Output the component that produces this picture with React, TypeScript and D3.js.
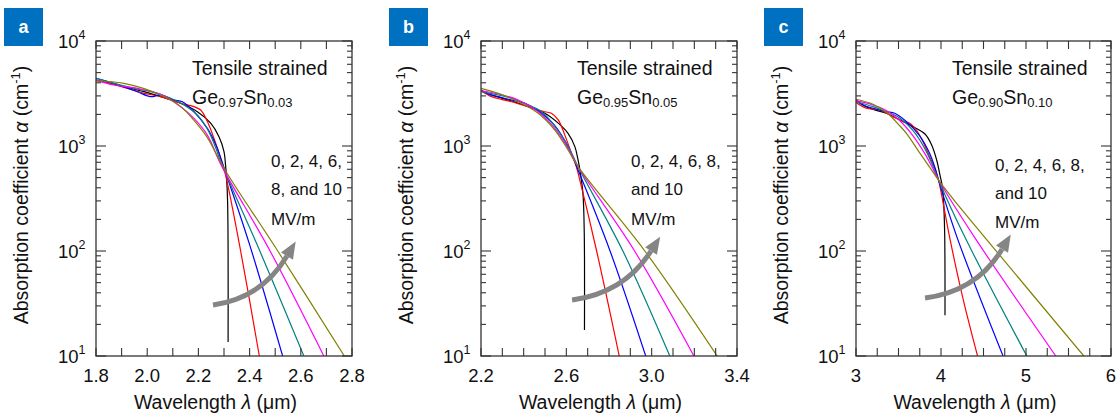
import React from "react";
import * as d3 from "d3";

type Pt = [number, number];

// Electric fields (MV/m) and their line colours
const fields = [0, 2, 4, 6, 8, 10];
const lineColors = ["#000000", "#ff0000", "#0000ff", "#008080", "#ff00ff", "#808000"];

// ---- Panel a: Ge0.97Sn0.03 (wavelength µm, alpha cm^-1)
const a0: Pt[] = [[1.8, 4250], [1.883, 3810], [1.988, 3290], [2.053, 2950], [2.131, 2550], [2.196, 2120], [2.248, 1650], [2.28, 1230], [2.3, 883], [2.306, 659], [2.31, 500], [2.314, 300], [2.316, 100], [2.316, 13.6]];
const a1: Pt[] = [[1.8, 4250], [1.87, 3860], [1.99, 3170], [2.053, 2950], [2.131, 2550], [2.183, 2370], [2.209, 2200], [2.235, 1710], [2.261, 1180], [2.287, 764], [2.306, 530], [2.365, 100], [2.438, 10]];
const a2: Pt[] = [[1.8, 4420], [1.87, 3950], [1.961, 3290], [2.014, 2950], [2.053, 3060], [2.105, 2740], [2.137, 2640], [2.183, 2120], [2.235, 1470], [2.27, 1000], [2.3, 620], [2.4, 115], [2.529, 10]];
const a3: Pt[] = [[1.8, 4420], [1.87, 3950], [1.948, 3540], [2.014, 3290], [2.092, 2850], [2.144, 2460], [2.196, 1970], [2.235, 1450], [2.265, 1000], [2.29, 680], [2.44, 100], [2.612, 10]];
const a4: Pt[] = [[1.8, 4250], [1.87, 3810], [1.961, 3540], [2.053, 3100], [2.131, 2370], [2.183, 1830], [2.235, 1270], [2.29, 650], [2.48, 100], [2.69, 10]];
const a5: Pt[] = [[1.8, 4160], [1.909, 3950], [2.053, 3060], [2.131, 2370], [2.183, 1750], [2.235, 1200], [2.27, 840], [2.31, 560], [2.51, 100], [2.77, 10]];

// ---- Panel b: Ge0.95Sn0.05
const b0: Pt[] = [[2.2, 3360], [2.25, 3060], [2.328, 2740], [2.421, 2370], [2.499, 2050], [2.562, 1650], [2.608, 1320], [2.64, 986], [2.655, 736], [2.666, 550], [2.678, 350], [2.684, 150], [2.685, 17.7]];
const b1: Pt[] = [[2.2, 3360], [2.25, 2950], [2.296, 2780], [2.343, 2640], [2.421, 2370], [2.499, 2120], [2.53, 2050], [2.562, 1770], [2.593, 1270], [2.624, 851], [2.647, 635], [2.663, 475], [2.742, 100], [2.848, 10]];
const b2: Pt[] = [[2.2, 3410], [2.234, 3130], [2.281, 2950], [2.343, 2740], [2.406, 2550], [2.437, 2370], [2.484, 2050], [2.546, 1560], [2.608, 986], [2.655, 590], [2.805, 100], [2.972, 10]];
const b3: Pt[] = [[2.2, 3290], [2.281, 3060], [2.343, 2850], [2.421, 2460], [2.484, 2120], [2.546, 1550], [2.608, 1000], [2.655, 635], [2.865, 100], [3.085, 10]];
const b4: Pt[] = [[2.2, 3360], [2.281, 3130], [2.375, 2740], [2.468, 2120], [2.546, 1470], [2.608, 951], [2.655, 635], [2.92, 100], [3.198, 10]];
const b5: Pt[] = [[2.2, 3540], [2.281, 3170], [2.375, 2640], [2.468, 2050], [2.546, 1420], [2.608, 917], [2.655, 635], [2.968, 100], [3.307, 10]];

// ---- Panel c: Ge0.90Sn0.10
const c0: Pt[] = [[3.0, 2700], [3.161, 2290], [3.357, 2050], [3.553, 1710], [3.71, 1470], [3.812, 1300], [3.89, 1023], [3.949, 736], [3.99, 520], [4.016, 410], [4.03, 300], [4.043, 150], [4.047, 60], [4.047, 24.5]];
const c1: Pt[] = [[3.0, 2590], [3.122, 2290], [3.278, 2200], [3.435, 1900], [3.553, 1710], [3.631, 1650], [3.71, 1420], [3.788, 1100], [3.867, 791], [3.945, 560], [3.975, 460], [4.104, 132], [4.263, 34], [4.43, 10]];
const c2: Pt[] = [[3.0, 2740], [3.082, 2460], [3.2, 2290], [3.357, 2120], [3.455, 2050], [3.592, 1710], [3.749, 1250], [3.867, 850], [3.93, 620], [3.969, 478], [4.193, 132], [4.73, 10]];
const c3: Pt[] = [[3.0, 2640], [3.2, 2370], [3.357, 2120], [3.514, 1850], [3.671, 1400], [3.808, 950], [3.9, 660], [3.969, 478], [4.288, 132], [5.01, 10]];
const c4: Pt[] = [[3.0, 2700], [3.2, 2460], [3.357, 2180], [3.514, 1750], [3.671, 1250], [3.808, 850], [3.9, 620], [3.969, 480], [4.403, 132], [5.35, 10]];
const c5: Pt[] = [[3.0, 2790], [3.2, 2500], [3.357, 2100], [3.514, 1560], [3.6, 1300], [3.733, 900], [3.89, 590], [3.969, 475], [4.165, 297], [4.525, 132], [5.68, 10]];

const panelCurves: Pt[][][] = [
  [a0, a1, a2, a3, a4, a5],
  [b0, b1, b2, b3, b4, b5],
  [c0, c1, c2, c3, c4, c5],
];

// Axes / labels
const panelLetters = ["a", "b", "c"];
const xDomains: [number, number][] = [[1.8, 2.8], [2.2, 3.4], [3, 6]];
const xLabelTicks = [[1.8, 2.0, 2.2, 2.4, 2.6, 2.8], [2.2, 2.6, 3.0, 3.4], [3, 4, 5, 6]];
const xTickStep = [0.1, 0.1, 0.25];
const xTickDigits = [1, 1, 0];
const yDomain: [number, number] = [10, 10000];
const yDecades = [10, 100, 1000, 10000];
const geFrac = ["0.97", "0.95", "0.90"];
const snFrac = ["0.03", "0.05", "0.10"];
const fieldNotes = [
  ["0, 2, 4, 6,", "8, and 10", "MV/m"],
  ["0, 2, 4, 6, 8,", "and 10", "MV/m"],
  ["0, 2, 4, 6, 8,", "and 10", "MV/m"],
];
// arrow: start, control, end (data coordinates)
const arrowA: Pt[] = [[2.257, 30.6], [2.448, 35.6], [2.546, 89.5]];
const arrowB: Pt[] = [[2.627, 34.1], [2.871, 39.8], [2.997, 100]];
const arrowC: Pt[] = [[3.812, 35.6], [4.424, 41.6], [4.718, 104]];
const panelArrows = [arrowA, arrowB, arrowC];

// layout
const TOP = 41;
const BOTTOM = 356;
const plotLefts = [96, 481, 856];
const plotWidths = [256, 256, 255];
const noteOffsets = [175, 150, 139];
const noteBaselines = [[167, 195, 225], [167, 195, 225], [171, 199, 228]];
const FONT = "'Liberation Sans', Arial, Helvetica, sans-serif";
const AXIS = "#333333";

function Panel({ i }: { i: number }) {
  const left = plotLefts[i];
  const right = left + plotWidths[i];
  const x = d3.scaleLinear().domain(xDomains[i]).range([left, right]);
  const y = d3.scaleLog().domain(yDomain).range([BOTTOM, TOP]);
  const line = d3
    .line<Pt>()
    .x((d) => x(d[0]))
    .y((d) => y(d[1]))
    .curve(d3.curveCatmullRom.alpha(0.5));

  const [x0, x1] = xDomains[i];
  const n = Math.round((x1 - x0) / xTickStep[i]);
  const xTicks = d3.range(n + 1).map((k) => x0 + k * xTickStep[i]);
  const yMinor: number[] = [];
  [10, 100, 1000].forEach((d) => {
    for (let k = 2; k <= 9; k++) yMinor.push(d * k);
  });

  // arrow geometry
  const [s, c, e] = panelArrows[i];
  const sx = x(s[0]), sy = y(s[1]);
  const cx = x(c[0]), cy = y(c[1]);
  const ex = x(e[0]), ey = y(e[1]);
  let dx = ex - cx, dy = ey - cy;
  const len = Math.hypot(dx, dy);
  dx /= len; dy /= len;
  const headL = 17, headW = 7;
  const tip = [ex + dx * headL, ey + dy * headL];
  const b1 = [ex - dy * headW, ey + dx * headW];
  const b2 = [ex + dy * headW, ey - dx * headW];

  const clipId = `plotclip-${i}`;
  const midX = (left + right) / 2;
  const midY = (TOP + BOTTOM) / 2;

  return (
    <g>
      <defs>
        <clipPath id={clipId}>
          <rect x={left} y={TOP} width={right - left} height={BOTTOM - TOP} />
        </clipPath>
      </defs>
      {/* panel letter */}
      <rect x={left - 92} y={8} width={39} height={38} fill="#0070c0" />
      <text x={left - 92 + 19.5} y={33} textAnchor="middle" fill="#ffffff" fontSize={18} fontWeight="bold" fontFamily={FONT}>
        {panelLetters[i]}
      </text>

      {/* curves */}
      <g clipPath={`url(#${clipId})`}>
        {panelCurves[i].map((pts, k) => (
          <path key={fields[k]} d={line(pts) || ""} fill="none" stroke={lineColors[k]} strokeWidth={1.2} />
        ))}
      </g>

      {/* arrow */}
      <path d={`M${sx},${sy} Q${cx},${cy} ${ex},${ey}`} fill="none" stroke="#858585" strokeWidth={5} />
      <polygon points={`${tip[0]},${tip[1]} ${b1[0]},${b1[1]} ${b2[0]},${b2[1]}`} fill="#858585" />

      {/* frame */}
      <rect x={left} y={TOP} width={right - left} height={BOTTOM - TOP} fill="none" stroke={AXIS} strokeWidth={1.3} />
      {/* x ticks */}
      {xTicks.map((t, k) => (
        <g key={"xt" + k}>
          <line x1={x(t)} x2={x(t)} y1={BOTTOM} y2={BOTTOM - 8} stroke={AXIS} strokeWidth={1.1} />
          <line x1={x(t)} x2={x(t)} y1={TOP} y2={TOP + 8} stroke={AXIS} strokeWidth={1.1} />
        </g>
      ))}
      {/* y ticks */}
      {yDecades.map((t) => (
        <g key={"yd" + t}>
          <line x1={left} x2={left + 10} y1={y(t)} y2={y(t)} stroke={AXIS} strokeWidth={1.1} />
          <line x1={right} x2={right - 10} y1={y(t)} y2={y(t)} stroke={AXIS} strokeWidth={1.1} />
        </g>
      ))}
      {yMinor.map((t) => (
        <g key={"ym" + t}>
          <line x1={left} x2={left + 5} y1={y(t)} y2={y(t)} stroke={AXIS} strokeWidth={1.1} />
          <line x1={right} x2={right - 5} y1={y(t)} y2={y(t)} stroke={AXIS} strokeWidth={1.1} />
        </g>
      ))}

      {/* x tick labels */}
      {xLabelTicks[i].map((t) => (
        <text key={"xl" + t} x={x(t)} y={382} textAnchor="middle" fontSize={18.5} fontFamily={FONT} fill="#111">
          {t.toFixed(xTickDigits[i])}
        </text>
      ))}
      {/* y tick labels */}
      {yDecades.map((t) => (
        <text key={"yl" + t} x={left - 10.5} y={y(t) + 7} textAnchor="end" fontSize={18.5} fontFamily={FONT} fill="#111">
          <tspan>10</tspan>
          <tspan fontSize={12.5} dy={-9}>{Math.round(Math.log10(t))}</tspan>
        </text>
      ))}

      {/* axis titles */}
      <text x={midX - 8.5} y={409} textAnchor="middle" fontSize={19.5} fontFamily={FONT} fill="#111">
        Wavelength <tspan fontStyle="italic">λ</tspan> (μm)
      </text>
      <text
        transform={`translate(${left - 68},${midY - 3.5}) rotate(-90)`}
        textAnchor="middle"
        fontSize={19.5}
        fontFamily={FONT}
        fill="#111"
      >
        Absorption coefficient <tspan fontStyle="italic">α</tspan> (cm
        <tspan fontSize={13} dy={-8}>-1</tspan>
        <tspan dy={8}>)</tspan>
      </text>

      {/* annotations */}
      <text x={left + 96} y={75} fontSize={19.5} fontFamily={FONT} fill="#111">
        Tensile strained
      </text>
      <text x={left + 96} y={104} fontSize={19.5} fontFamily={FONT} fill="#111">
        Ge
        <tspan fontSize={13} dy={2.5}>{geFrac[i]}</tspan>
        <tspan dy={-2.5}>Sn</tspan>
        <tspan fontSize={13} dy={2.5}>{snFrac[i]}</tspan>
      </text>
      {fieldNotes[i].map((s2, k) => (
        <text key={"fn" + k} x={left + noteOffsets[i]} y={noteBaselines[i][k]} fontSize={17} fontFamily={FONT} fill="#111">
          {s2}
        </text>
      ))}
    </g>
  );
}

export default function App() {
  return (
    <svg
      width={1120}
      height={417}
      viewBox="0 0 1120 417"
      style={{ position: "absolute", left: 0, top: 0, background: "#ffffff" }}
    >
      <rect x={0} y={0} width={1120} height={417} fill="#ffffff" />
      {[0, 1, 2].map((i) => (
        <Panel key={i} i={i} />
      ))}
    </svg>
  );
}
